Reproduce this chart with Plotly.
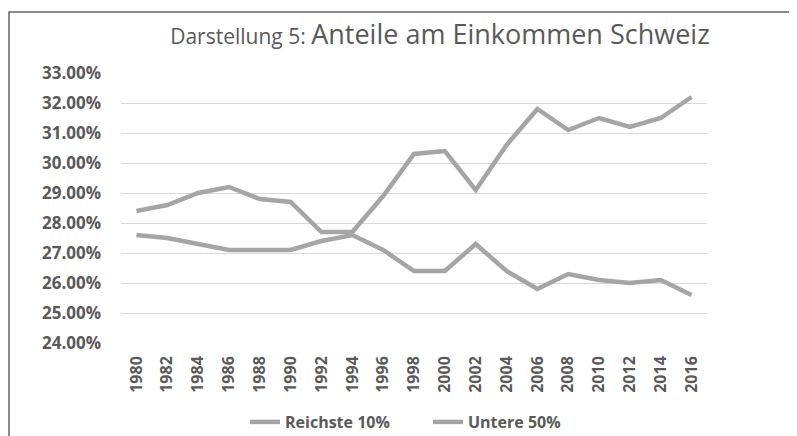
"""Anteile am Einkommen Schweiz - line chart recreation."""

import plotly.graph_objects as go

years = [str(y) for y in range(1980, 2017, 2)]
reichste_10 = [28.4, 28.6, 29.0, 29.2, 28.8, 28.7, 27.7, 27.7, 28.9, 30.3,
               30.4, 29.1, 30.6, 31.8, 31.1, 31.5, 31.2, 31.5, 32.2]
untere_50 = [27.6, 27.5, 27.3, 27.1, 27.1, 27.1, 27.4, 27.6, 27.1, 26.4,
             26.4, 27.3, 26.4, 25.8, 26.3, 26.1, 26.0, 26.1, 25.6]
y_ticks = [24, 25, 26, 27, 28, 29, 30, 31, 32, 33]

LINE_COLOR = "#a5a5a5"
TEXT_COLOR = "#595959"
FONT = "Open Sans"

# the page body adds an 8px margin, so the figure is laid out shifted by that
OFFSET = 8
PLOT_L, PLOT_T, PLOT_W, PLOT_H = 121, 73, 586, 270

fig = go.Figure()
fig.add_trace(go.Scatter(x=years, y=reichste_10, name="Reichste 10%", mode="lines",
                         line=dict(color=LINE_COLOR, width=4.5)))
fig.add_trace(go.Scatter(x=years, y=untere_50, name="Untere 50%", mode="lines",
                         line=dict(color=LINE_COLOR, width=4.5)))

fig.update_layout(
    width=797,
    height=436,
    margin=dict(
        l=PLOT_L - OFFSET, t=PLOT_T - OFFSET,
        r=797 - (PLOT_L - OFFSET) - PLOT_W, b=436 - (PLOT_T - OFFSET) - PLOT_H,
        autoexpand=False,
    ),
    paper_bgcolor="white",
    plot_bgcolor="white",
    font=dict(family=FONT, color=TEXT_COLOR),
    title=dict(
        text="<span style='font-size:21px'>Darstellung 5: </span>"
             "<span style='font-size:27px'>Anteile am Einkommen Schweiz</span>",
        x=(440 - OFFSET) / 797, xanchor="center", xref="container",
        y=1 - (38 - OFFSET) / 436, yanchor="middle", yref="container",
        font=dict(family=FONT, color=TEXT_COLOR),
    ),
    showlegend=True,
    legend=dict(
        orientation="h", x=(428 - PLOT_L) / PLOT_W, xanchor="center",
        y=(PLOT_T + PLOT_H - 422) / PLOT_H, yanchor="middle",
        font=dict(size=16, weight="bold", color=TEXT_COLOR),
        traceorder="normal", entrywidth=138, entrywidthmode="pixels",
    ),
    shapes=[dict(
        type="rect", xref="paper", yref="paper",
        x0=(9 - PLOT_L) / PLOT_W, x1=(830 - PLOT_L) / PLOT_W,
        y0=(PLOT_T + PLOT_H - 470) / PLOT_H, y1=(PLOT_T + PLOT_H - 12) / PLOT_H,
        line=dict(color="#666666", width=1.5), fillcolor="rgba(0,0,0,0)", layer="below",
    )],
)

fig.update_xaxes(
    type="category", range=[-0.5, len(years) - 0.5], automargin=False,
    tickangle=-90, showgrid=False, showline=False, ticks="", ticklabelstandoff=9,
    tickfont=dict(size=16, weight="bold", color=TEXT_COLOR),
)
fig.update_yaxes(
    range=[24, 33], tickvals=y_ticks, ticktext=[f"{v:.2f}%" for v in y_ticks],
    automargin=False,
    showgrid=True, gridcolor="#d9d9d9", gridwidth=1, zeroline=False, showline=False,
    ticks="", ticklabelstandoff=19,
    tickfont=dict(size=17, weight="bold", color=TEXT_COLOR),
)

fig.write_html("out.html")
